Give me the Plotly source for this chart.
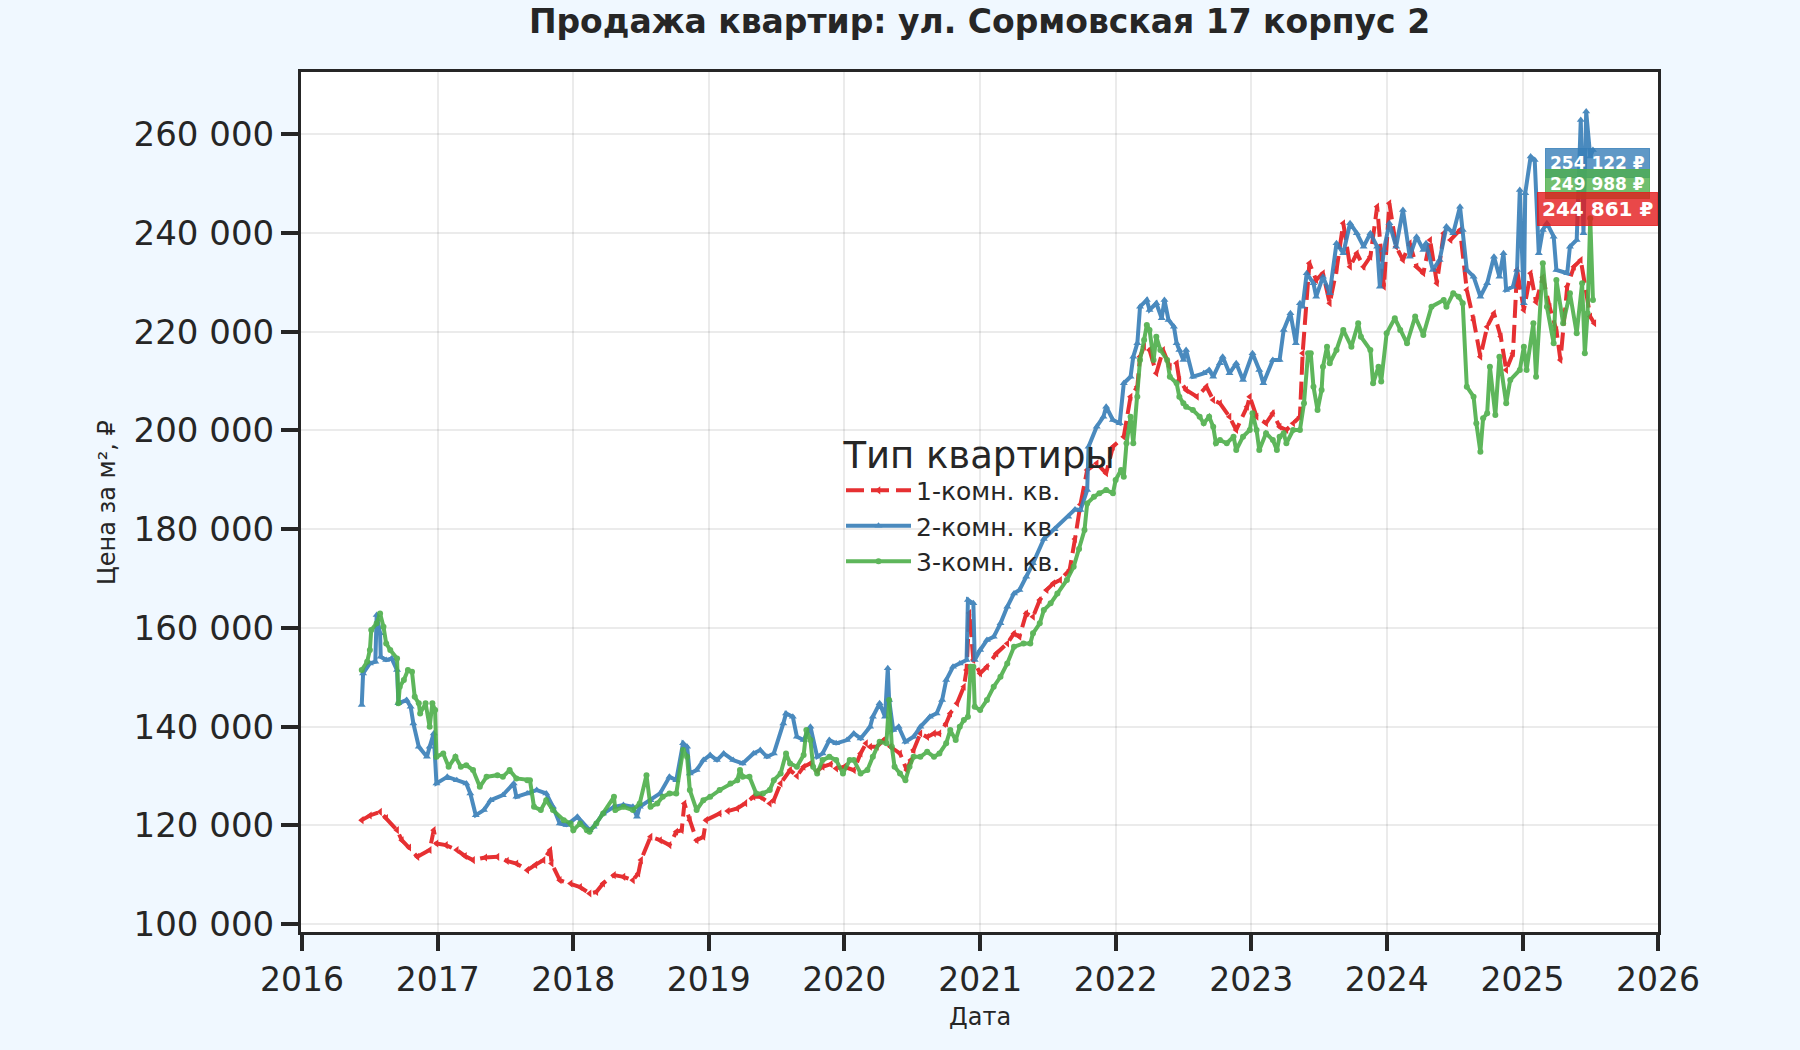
import pandas as pd
import plotly.graph_objects as go

# ---------------- data (decimal years, price per m²) ----------------
red_t = [2016.44, 2016.50, 2016.575, 2016.62, 2016.70, 2016.735, 2016.79, 2016.85, 2016.94, 2016.97,
         2016.99, 2017.06, 2017.14, 2017.20, 2017.26, 2017.35, 2017.44, 2017.51, 2017.58, 2017.66,
         2017.72, 2017.78, 2017.83, 2017.84, 2017.90, 2017.98, 2018.05, 2018.12, 2018.17, 2018.22,
         2018.30, 2018.37, 2018.44, 2018.48, 2018.50, 2018.57, 2018.64, 2018.71, 2018.76, 2018.80,
         2018.82, 2018.86, 2018.91, 2018.96, 2018.98, 2019.08, 2019.14, 2019.21, 2019.27, 2019.33,
         2019.38, 2019.45, 2019.48, 2019.53, 2019.60, 2019.65, 2019.70, 2019.75, 2019.80, 2019.84,
         2019.90, 2019.94, 2020.00, 2020.07, 2020.12, 2020.16, 2020.19, 2020.24, 2020.29, 2020.34,
         2020.41, 2020.46, 2020.49, 2020.51, 2020.56, 2020.61, 2020.66, 2020.70, 2020.75, 2020.78,
         2020.83, 2020.88, 2020.90, 2020.92, 2020.95, 2021.00, 2021.05, 2021.12, 2021.20, 2021.25,
         2021.29, 2021.34, 2021.39, 2021.44, 2021.49, 2021.54, 2021.59, 2021.66, 2021.70, 2021.74,
         2021.79, 2021.86, 2021.93, 2021.98, 2022.06, 2022.11, 2022.16, 2022.18, 2022.21, 2022.25,
         2022.30, 2022.35, 2022.40, 2022.45, 2022.47, 2022.52, 2022.60, 2022.67, 2022.72, 2022.77,
         2022.84, 2022.89, 2022.97, 2022.99, 2023.04, 2023.11, 2023.16, 2023.21, 2023.26, 2023.31,
         2023.36, 2023.38, 2023.43, 2023.48, 2023.53, 2023.58, 2023.63, 2023.68, 2023.73, 2023.78,
         2023.83, 2023.88, 2023.93, 2023.98, 2024.02, 2024.07, 2024.12, 2024.17, 2024.22, 2024.27,
         2024.32, 2024.37, 2024.42, 2024.47, 2024.54, 2024.59, 2024.64, 2024.69, 2024.74, 2024.79,
         2024.84, 2024.88, 2024.93, 2024.96, 2025.01, 2025.06, 2025.10, 2025.15, 2025.20, 2025.25,
         2025.28, 2025.33, 2025.38, 2025.43, 2025.50, 2025.53]
red_v = [121060, 122000, 122740, 121500, 119030, 117000, 115500, 113620, 115000, 119030,
         116340, 116000, 115000, 113800, 112960, 113500, 113620, 112800, 112280, 110930,
         112000, 112960, 115000, 112300, 108900, 108230, 107500, 106210, 106500, 108230,
         109920, 109570, 108900, 110260, 112960, 117680, 117000, 116000, 118690, 119030,
         124440, 121060, 117000, 117680, 121060, 122420, 122900, 123430, 124500, 125780,
         125780, 124440, 125110, 128500, 131190, 130000, 131870, 132540, 131000, 131870,
         132400, 131530, 131870, 131190, 134570, 136610, 135920, 135920, 137270, 135920,
         134570, 131190, 133220, 135250, 138630, 137900, 138630, 138630, 140650, 142680,
         144710, 148080, 151450, 163000, 153480, 150780, 152120, 154830, 156850, 158880,
         158200, 162940, 162260, 165640, 167670, 169020, 169700, 171720, 178000, 185000,
         191980, 193330, 191310, 196700, 198730, 206830, 208860, 214940, 216970, 216290,
         211570, 216290, 212910, 213600, 210220, 208190, 206830, 208860, 206160, 205490,
         202780, 200080, 204800, 206830, 202780, 201440, 203470, 200750, 200080, 201440,
         202780, 215620, 233860, 230480, 231830, 225760, 232510, 241970, 233170, 235890,
         233170, 235200, 245330, 229120, 246020, 237220, 234530, 237910, 233170, 231830,
         238580, 229810, 239940, 238580, 240610, 228450, 222370, 214940, 221000, 223730,
         219000, 212240, 215620, 232510, 224400, 231830, 226000, 231000, 225000, 220350,
         214270, 229120, 233170, 234530, 223050, 221700]

blue_t = [2016.44, 2016.45, 2016.50, 2016.54, 2016.55, 2016.575, 2016.58, 2016.62, 2016.66, 2016.70,
          2016.71, 2016.77, 2016.80, 2016.82, 2016.86, 2016.92, 2016.94, 2016.97, 2016.99, 2017.07,
          2017.14, 2017.21, 2017.24, 2017.28, 2017.34, 2017.39, 2017.48, 2017.56, 2017.58, 2017.66,
          2017.73, 2017.80, 2017.85, 2017.90, 2017.95, 2018.03, 2018.07, 2018.12, 2018.15, 2018.22,
          2018.30, 2018.37, 2018.44, 2018.47, 2018.49, 2018.57, 2018.64, 2018.71, 2018.76, 2018.81,
          2018.84, 2018.86, 2018.91, 2018.96, 2019.01, 2019.06, 2019.11, 2019.18, 2019.25, 2019.33,
          2019.38, 2019.43, 2019.48, 2019.55, 2019.57, 2019.62, 2019.65, 2019.70, 2019.75, 2019.80,
          2019.84, 2019.89, 2019.94, 2020.02, 2020.07, 2020.12, 2020.19, 2020.21, 2020.26, 2020.30,
          2020.32, 2020.33, 2020.36, 2020.40, 2020.45, 2020.51, 2020.56, 2020.63, 2020.68, 2020.72,
          2020.75, 2020.80, 2020.85, 2020.90, 2020.91, 2020.95, 2020.96, 2021.00, 2021.05, 2021.10,
          2021.15, 2021.20, 2021.25, 2021.29, 2021.34, 2021.39, 2021.47, 2021.55, 2021.65, 2021.70,
          2021.74, 2021.79, 2021.80, 2021.86, 2021.91, 2021.93, 2021.98, 2022.03, 2022.06, 2022.11,
          2022.13, 2022.16, 2022.18, 2022.23, 2022.25, 2022.30, 2022.34, 2022.36, 2022.39, 2022.43,
          2022.45, 2022.47, 2022.50, 2022.52, 2022.57, 2022.65, 2022.69, 2022.72, 2022.77, 2022.79,
          2022.84, 2022.89, 2022.94, 2023.01, 2023.06, 2023.09, 2023.16, 2023.21, 2023.24, 2023.29,
          2023.33, 2023.36, 2023.38, 2023.41, 2023.46, 2023.48, 2023.53, 2023.58, 2023.63, 2023.68,
          2023.73, 2023.78, 2023.83, 2023.88, 2023.93, 2023.95, 2023.98, 2024.02, 2024.07, 2024.12,
          2024.17, 2024.22, 2024.27, 2024.29, 2024.34, 2024.39, 2024.44, 2024.49, 2024.54, 2024.56,
          2024.59, 2024.64, 2024.69, 2024.74, 2024.79, 2024.83, 2024.86, 2024.88, 2024.93, 2024.96,
          2024.98, 2025.01, 2025.02, 2025.06, 2025.09, 2025.12, 2025.15, 2025.18, 2025.23, 2025.25,
          2025.33, 2025.35, 2025.40, 2025.43, 2025.45, 2025.47, 2025.50, 2025.52]
blue_v = [144360, 150780, 152810, 153140, 162600, 158890, 154150, 153480, 153820, 151450,
          144710, 145380, 144020, 140650, 135920, 133880, 135920, 138630, 128500, 129830,
          129160, 128500, 126470, 122070, 123090, 125110, 126120, 128500, 125780, 126470,
          127140, 126470, 123760, 120390, 120050, 121730, 120390, 119030, 119700, 122420,
          123760, 124100, 123760, 121730, 123760, 125110, 126470, 129830, 129160, 136610,
          135920, 130520, 131190, 133220, 134240, 133220, 134570, 133220, 132540, 134570,
          135250, 133880, 134570, 140650, 142680, 142000, 137950, 137270, 139970, 133880,
          134570, 137270, 136610, 137270, 138630, 137610, 139970, 142000, 144710, 142000,
          151800, 145380, 139300, 139970, 136930, 137950, 139970, 142000, 142680, 145380,
          149430, 152120, 152810, 153480, 165640, 164970, 153480, 155510, 157530, 158200,
          160920, 164270, 166990, 167670, 170360, 173070, 178000, 180000, 182500, 184000,
          183870, 187920, 196700, 200750, 202780, 204800, 202110, 201440, 209550, 210880,
          214940, 217650, 225070, 226420, 224400, 225760, 222720, 226420, 222370, 221020,
          217650, 216290, 214270, 216290, 210880, 211570, 212240, 210880, 213600, 214940,
          211570, 213600, 210220, 215620, 212240, 209550, 214270, 214270, 220350, 223730,
          217650, 225760, 225070, 231830, 229810, 227090, 231150, 227780, 237910, 235890,
          241970, 239940, 237220, 239940, 237220, 229120, 236560, 241970, 237220, 244660,
          235200, 239250, 236560, 237910, 232510, 234530, 241290, 239940, 245330, 240610,
          232510, 231150, 227090, 229810, 235200, 231150, 235890, 228450, 229120, 232510,
          248720, 225760, 248040, 255460, 254790, 235890, 240610, 241970, 239250, 232510,
          231830, 237220, 238580, 262900, 239940, 264580, 255460, 256820]

green_t = [2016.44, 2016.48, 2016.50, 2016.51, 2016.55, 2016.575, 2016.60, 2016.62, 2016.65, 2016.70,
           2016.71, 2016.72, 2016.75, 2016.78, 2016.81, 2016.83, 2016.86, 2016.87, 2016.91, 2016.94,
           2016.96, 2016.98, 2016.99, 2017.04, 2017.08, 2017.13, 2017.17, 2017.21, 2017.26, 2017.31,
           2017.36, 2017.44, 2017.48, 2017.53, 2017.58, 2017.66, 2017.68, 2017.71, 2017.76, 2017.80,
           2017.85, 2017.93, 2017.98, 2018.00, 2018.05, 2018.10, 2018.12, 2018.17, 2018.22, 2018.30,
           2018.31, 2018.37, 2018.44, 2018.49, 2018.54, 2018.57, 2018.62, 2018.66, 2018.71, 2018.76,
           2018.81, 2018.84, 2018.86, 2018.91, 2018.96, 2019.01, 2019.08, 2019.16, 2019.21, 2019.23,
           2019.25, 2019.30, 2019.35, 2019.40, 2019.45, 2019.48, 2019.53, 2019.57, 2019.60, 2019.65,
           2019.70, 2019.72, 2019.75, 2019.77, 2019.80, 2019.84, 2019.89, 2019.94, 2019.99, 2020.04,
           2020.07, 2020.12, 2020.17, 2020.21, 2020.26, 2020.31, 2020.33, 2020.35, 2020.37, 2020.41,
           2020.45, 2020.48, 2020.51, 2020.56, 2020.61, 2020.66, 2020.70, 2020.75, 2020.78, 2020.82,
           2020.85, 2020.88, 2020.91, 2020.93, 2020.95, 2020.96, 2021.00, 2021.05, 2021.10, 2021.15,
           2021.20, 2021.25, 2021.32, 2021.37, 2021.39, 2021.44, 2021.47, 2021.52, 2021.57, 2021.64,
           2021.69, 2021.73, 2021.77, 2021.79, 2021.84, 2021.88, 2021.93, 2021.98, 2022.00, 2022.04,
           2022.06, 2022.08, 2022.11, 2022.13, 2022.16, 2022.18, 2022.21, 2022.23, 2022.25, 2022.28,
           2022.30, 2022.33, 2022.38, 2022.40, 2022.45, 2022.47, 2022.50, 2022.52, 2022.57, 2022.62,
           2022.65, 2022.69, 2022.72, 2022.74, 2022.77, 2022.82, 2022.87, 2022.89, 2022.94, 2022.99,
           2023.01, 2023.04, 2023.06, 2023.11, 2023.16, 2023.19, 2023.21, 2023.24, 2023.26, 2023.31,
           2023.36, 2023.39, 2023.42, 2023.44, 2023.46, 2023.49, 2023.52, 2023.53, 2023.56, 2023.58,
           2023.63, 2023.68, 2023.74, 2023.79, 2023.81, 2023.88, 2023.90, 2023.94, 2023.96, 2024.00,
           2024.06, 2024.10, 2024.15, 2024.21, 2024.27, 2024.33, 2024.42, 2024.44, 2024.49, 2024.53,
           2024.56, 2024.59, 2024.64, 2024.66, 2024.69, 2024.71, 2024.74, 2024.76, 2024.80, 2024.83,
           2024.88, 2024.91, 2024.98, 2025.01, 2025.03, 2025.08, 2025.10, 2025.15, 2025.18, 2025.23,
           2025.25, 2025.30, 2025.35, 2025.40, 2025.44, 2025.46, 2025.48, 2025.50, 2025.52]
green_v = [151450, 153140, 155510, 159560, 160920, 162940, 160230, 156860, 155510, 153820,
           144710, 148080, 149430, 151450, 151110, 146050, 144710, 142680, 144710, 139970,
           144710, 143350, 133880, 134570, 131870, 133880, 131870, 132200, 131190, 127810,
           129830, 130170, 129830, 131190, 129500, 129160, 129160, 123760, 123090, 125110,
           123090, 121060, 120390, 119030, 120390, 119030, 118690, 120390, 122420, 125780,
           123090, 123760, 123090, 124440, 130170, 123760, 124440, 125780, 126470, 126470,
           135250, 133880, 127140, 123090, 125110, 125780, 127140, 128500, 129160, 131190,
           129830, 129830, 126470, 126470, 127140, 129160, 130520, 134570, 132540, 131870,
           134240, 139300, 137270, 131870, 130520, 133220, 133880, 133220, 130520, 133220,
           133220, 130520, 131190, 133880, 136930, 136610, 145380, 135920, 131870, 130520,
           129160, 131870, 133880, 133880, 134900, 133880, 134570, 136610, 139300, 137270,
           139970, 141320, 142000, 152120, 152120, 144020, 143350, 145380, 148080, 150100,
           152810, 156170, 156860, 156860, 158890, 160920, 163610, 164970, 166990, 169700,
           172380, 176000, 179810, 185220, 186570, 187250, 187920, 187250, 189950, 191980,
           190620, 197390, 202780, 197390, 206830, 214270, 218320, 221360, 220350, 214270,
           218990, 216290, 214270, 210880, 209550, 206830, 205490, 204800, 204140, 202780,
           201440, 202780, 200750, 197390, 198060, 197390, 198730, 196030, 198730, 200080,
           203470, 200080, 196030, 199410, 198060, 196030, 198730, 199410, 197390, 200080,
           200080, 205490, 215620, 215620, 208860, 204140, 208190, 212910, 216970, 213600,
           216290, 220350, 216970, 221700, 218990, 216290, 209550, 212910, 209890, 219680,
           222720, 220350, 217650, 223050, 219340, 225070, 226420, 225070, 227780, 227090,
           225760, 208860, 206830, 201440, 195690, 202450, 203470, 212910, 203120, 214940,
           205490, 210220, 212240, 216970, 212240, 221700, 210880, 233860, 225070, 217650,
           230480, 221700, 227780, 219680, 229810, 215620, 223730, 243000, 226420]

series_names = ["1-комн. кв.", "2-комн. кв.", "3-комн. кв."]
label_values = [254122, 249988, 244861]          # blue, green, red badges
label_texts = ["254 122 ₽", "249 988 ₽", "244 861 ₽"]
label_time = 2025.55
y_ticks = [100000, 120000, 140000, 160000, 180000, 200000, 220000, 240000, 260000]
y_tick_text = ["100 000", "120 000", "140 000", "160 000", "180 000", "200 000",
               "220 000", "240 000", "260 000"]

RED, BLUE, GREEN = "#e41a1c", "#377eb8", "#4daf4a"
INK = "#262626"
FONT = "DejaVu Sans"


def to_date(t):
    y = int(t)
    start = pd.Timestamp(y, 1, 1)
    return start + (t - y) * (pd.Timestamp(y + 1, 1, 1) - start)


def dates(ts):
    return [to_date(t) for t in ts]


fig = go.Figure()
fig.add_trace(go.Scatter(
    x=dates(red_t), y=red_v, name=series_names[0], mode="lines+markers",
    line=dict(color=RED, width=4, dash="18px,7px"),
    marker=dict(symbol="triangle-left", size=7, color=RED),
    opacity=0.9))
fig.add_trace(go.Scatter(
    x=dates(blue_t), y=blue_v, name=series_names[1], mode="lines+markers",
    line=dict(color=BLUE, width=4),
    marker=dict(symbol="triangle-up", size=7, color=BLUE),
    opacity=0.9))
fig.add_trace(go.Scatter(
    x=dates(green_t), y=green_v, name=series_names[2], mode="lines+markers",
    line=dict(color=GREEN, width=4),
    marker=dict(symbol="circle", size=6, color=GREEN),
    opacity=0.9))

badge_cfg = [(BLUE, 17), (GREEN, 17), (RED, 20)]
for (col, fs), val, txt in zip(badge_cfg, label_values, label_texts):
    r, g, b = int(col[1:3], 16), int(col[3:5], 16), int(col[5:7], 16)
    fig.add_annotation(
        x=to_date(label_time), y=val, xref="x", yref="y", text=f"<b>{txt}</b>",
        showarrow=False, xanchor="center", yanchor="middle",
        font=dict(family=FONT, size=fs, color="white"),
        bgcolor=f"rgba({r},{g},{b},0.8)", borderpad=4, bordercolor=f"rgba({r},{g},{b},0.8)")

fig.add_annotation(text="Дата", xref="paper", yref="paper", x=0.5, y=-0.099,
                   showarrow=False, xanchor="center", yanchor="middle",
                   font=dict(family=FONT, size=24, color=INK))
fig.add_annotation(text="Цена за м², ₽", xref="paper", yref="paper", x=-0.143, y=0.5,
                   textangle=-90, showarrow=False, xanchor="center", yanchor="middle",
                   font=dict(family=FONT, size=24, color=INK))

fig.update_layout(
    width=1800, height=1050,
    margin=dict(l=301, r=142, t=72, b=118),
    paper_bgcolor="#f0f8ff", plot_bgcolor="white",
    font=dict(family=FONT, color=INK),
    title=dict(text="<b>Продажа квартир: ул. Сормовская 17 корпус 2</b>",
               x=0.5, xref="paper", xanchor="center",
               y=1 - 21 / 1050, yref="container", yanchor="middle",
               font=dict(family=FONT, size=33, color=INK)),
    showlegend=True,
    legend=dict(
        x=0.5, y=0.5, xanchor="center", yanchor="middle",
        bgcolor="rgba(0,0,0,0)", borderwidth=0,
        font=dict(family=FONT, size=25, color=INK),
        itemwidth=65,
        title=dict(text="Тип квартиры", side="top center",
                   font=dict(family=FONT, size=37, color=INK)),
        tracegroupgap=0),
)

fig.update_xaxes(
    type="date", range=[to_date(2015.993), to_date(2026.0)],
    dtick="M12", tick0="2016-01-01", tickformat="%Y",
    showgrid=True, gridcolor="rgba(0,0,0,0.08)", gridwidth=2,
    showline=True, linecolor=INK, linewidth=3, mirror=True,
    ticks="outside", ticklen=16, tickwidth=3.5, tickcolor=INK,
    tickfont=dict(family=FONT, size=33, color=INK), zeroline=False)
fig.update_yaxes(
    range=[98400, 272600], tickvals=y_ticks, ticktext=y_tick_text,
    showgrid=True, gridcolor="rgba(0,0,0,0.08)", gridwidth=2,
    showline=True, linecolor=INK, linewidth=3, mirror=True,
    ticks="outside", ticklen=17, tickwidth=3.5, tickcolor=INK,
    tickfont=dict(family=FONT, size=34, color=INK), zeroline=False)

fig.write_html("out.html", config={"displayModeBar": False},
               post_script="document.body.style.margin='0';document.body.style.overflow='hidden';")
